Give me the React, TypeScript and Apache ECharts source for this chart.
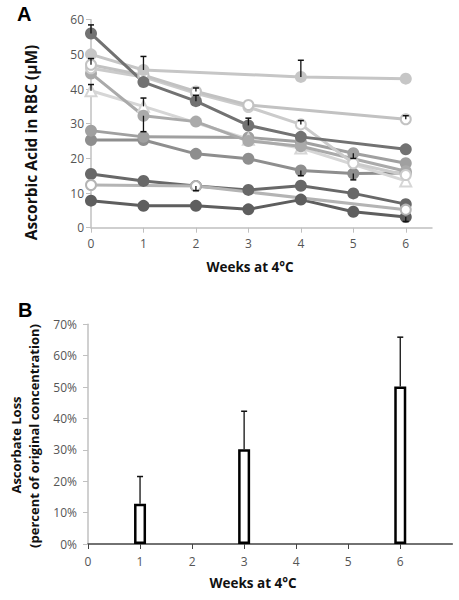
import React, { useEffect, useRef } from "react";
import * as echarts from "echarts";

const weeks = [0, 1, 2, 3, 4, 5, 6];
const weekTicks = [0, 1, 2, 3, 4, 5, 6];

// Panel A: ascorbic acid in RBC (µM) per subject
const s1 = [56, 42, 36.5, 29.5, 26.2, null, 22.6];
const s2 = [50, 45.5, null, null, 43.5, null, 43];
const s3 = [47, 44, 39.3, 35.4, null, null, 31.3];
const s4 = [46, 43.5, 38.8, 34.8, 29.8, 18.6, 15.2];
const s5 = [28, 26.2, null, 26, 24.8, 21.5, 18.6];
const s6 = [25.3, 25.3, 21.3, 19.9, 16.5, 15.6, 15.8];
const s7 = [44.5, 32.3, 30.6, 25, 23.5, null, 16.3];
const s8 = [39.5, 35, null, 25.5, 23, null, 13.5];
const s9 = [15.5, 13.5, 12, 10.9, 12.1, 9.9, 6.8];
const s10 = [12.3, null, 12, null, null, null, 5.2];
const s11 = [7.8, 6.3, 6.3, 5.3, 8.1, 4.6, 3.1];

// Panel A error bars: week, from (point), to (cap)
const errAWeek = [0, 0, 0, 1, 1, 1, 2, 2, 2, 3, 4, 4, 4, 5, 5, 6, 6];
const errAFrom = [56, 47, 39.5, 45.5, 35, 32.3, 39.3, 36.5, 12, 29.5, 43.5, 29.8, 16.5, 21.5, 15.6, 31.3, 3.1];
const errATo = [58.5, 48.8, 41.3, 49.4, 37.4, 27.7, 40.3, 38.2, 10.7, 31.6, 48.3, 30.9, 15, 20, 13.8, 32.3, 1.8];

// Panel B: ascorbate loss (%)
const lossWeeks = [1, 3, 6];
const lossMean = [12.8, 30.2, 50.2];
const lossErr = [21.5, 42.3, 65.9];

const lineDefs = [
  { data: s11, color: "#5e5e5e", symbol: "circle" },
  { data: s9, color: "#686868", symbol: "circle" },
  { data: s10, color: "#b4b4b4", symbol: "emptyCircle" },
  { data: s6, color: "#8e8e8e", symbol: "circle" },
  { data: s5, color: "#a0a0a0", symbol: "circle" },
  { data: s8, color: "#d6d6d6", symbol: "emptyTriangle" },
  { data: s7, color: "#aaaaaa", symbol: "circle" },
  { data: s4, color: "#cbcbcb", symbol: "emptyCircle" },
  { data: s3, color: "#c2c2c2", symbol: "emptyCircle" },
  { data: s2, color: "#c6c6c6", symbol: "circle" },
  { data: s1, color: "#727272", symbol: "circle" },
];

const tickFont = { color: "#555", fontSize: 12, fontFamily: "Open Sans" };

function errRender(capHalf: number) {
  return (params: any, api: any) => {
    const x = api.value(0);
    const p1 = api.coord([x, api.value(1)]);
    const p2 = api.coord([x, api.value(2)]);
    return {
      type: "group",
      children: [
        { type: "line", shape: { x1: p1[0], y1: p1[1], x2: p2[0], y2: p2[1] }, style: { stroke: "#111", lineWidth: 1.3 } },
        { type: "line", shape: { x1: p2[0] - capHalf, y1: p2[1], x2: p2[0] + capHalf, y2: p2[1] }, style: { stroke: "#111", lineWidth: 1.5 } },
      ],
    };
  };
}

export default function App() {
  const ref = useRef<HTMLDivElement>(null);
  useEffect(() => {
    if (!ref.current) return;
    const chart = echarts.init(ref.current, null, { renderer: "svg" });
    const lineSeries = lineDefs.map((d) => ({
      type: "line",
      xAxisIndex: 0,
      yAxisIndex: 0,
      data: weeks.map((w, i) => [w, d.data[i]]),
      connectNulls: true,
      symbol: d.symbol,
      symbolSize: d.symbol === "emptyTriangle" ? 11 : d.symbol === "emptyCircle" ? 10 : 12,
      lineStyle: { color: d.color, width: 3 },
      itemStyle: { color: d.color, borderWidth: d.symbol === "circle" ? 0 : 2.5, borderColor: d.color },
    }));
    chart.setOption({
      animation: false,
      grid: [
        { left: 91, top: 19.7, width: 341, height: 208 },
        { left: 88, top: 324.3, width: 364.3, height: 219.7 },
      ],
      xAxis: [
        {
          gridIndex: 0, type: "value", min: 0, max: 6.5, interval: 1,
          axisLine: { lineStyle: { color: "#c0c0c0", width: 1.5 } },
          axisTick: { show: true, length: 5, customValues: weekTicks, lineStyle: { color: "#c0c0c0" } },
          axisLabel: { ...tickFont, margin: 10, customValues: weekTicks },
          splitLine: { show: false },
        },
        {
          gridIndex: 1, type: "value", min: 0, max: 7, interval: 1,
          axisLine: { lineStyle: { color: "#444", width: 1.5 } },
          axisTick: { show: true, length: 5, lineStyle: { color: "#444" } },
          axisLabel: { ...tickFont, margin: 11, showMaxLabel: false },
          splitLine: { show: false },
        },
      ],
      yAxis: [
        {
          gridIndex: 0, type: "value", min: 0, max: 60, interval: 10,
          axisLine: { show: true, lineStyle: { color: "#c0c0c0", width: 1.5 } },
          axisTick: { show: true, length: 5, lineStyle: { color: "#c0c0c0" } },
          axisLabel: { ...tickFont, margin: 7 },
          splitLine: { show: false },
        },
        {
          gridIndex: 1, type: "value", min: 0, max: 70, interval: 10,
          axisLine: { show: true, lineStyle: { color: "#c0c0c0", width: 1.5 } },
          axisTick: { show: true, length: 5, lineStyle: { color: "#c0c0c0" } },
          axisLabel: { ...tickFont, margin: 11, formatter: "{value}%" },
          splitLine: { show: false },
        },
      ],
      series: [
        ...lineSeries,
        {
          type: "custom", xAxisIndex: 0, yAxisIndex: 0, z: 5,
          data: errAWeek.map((w, i) => [w, errAFrom[i], errATo[i]]),
          renderItem: errRender(3),
        },
        {
          type: "bar", xAxisIndex: 1, yAxisIndex: 1,
          data: lossWeeks.map((w, i) => [w, lossMean[i]]),
          barWidth: 12,
          itemStyle: { color: "#fff", borderColor: "#000", borderWidth: 2.5 },
        },
        {
          type: "custom", xAxisIndex: 1, yAxisIndex: 1, z: 1,
          data: lossWeeks.map((w, i) => [w, lossMean[i], lossErr[i]]),
          renderItem: errRender(3),
        },
      ],
      graphic: [
        { type: "text", left: 17, top: 4, style: { text: "A", font: "bold 20px Arial", fill: "#000" } },
        { type: "text", left: 18, top: 300, style: { text: "B", font: "bold 20px Arial", fill: "#000" } },
        {
          type: "text", x: 30.5, y: 142.5, rotation: Math.PI / 2,
          style: { text: "Ascorbic Acid in RBC (µM)", font: "bold 15.5px 'Open Sans'", fill: "#111", textAlign: "center", textVerticalAlign: "middle" },
        },
        {
          type: "text", x: 250, y: 267,
          style: { text: "Weeks at 4°C", font: "bold 13.5px 'Open Sans'", fill: "#111", textAlign: "center", textVerticalAlign: "middle" },
        },
        {
          type: "text", x: 16, y: 445, rotation: Math.PI / 2,
          style: { text: "Ascorbate Loss", font: "bold 13px 'Open Sans'", fill: "#111", textAlign: "center", textVerticalAlign: "middle" },
        },
        {
          type: "text", x: 34, y: 436, rotation: Math.PI / 2,
          style: { text: "(percent of original concentration)", font: "bold 13px 'Open Sans'", fill: "#111", textAlign: "center", textVerticalAlign: "middle" },
        },
        {
          type: "text", x: 253, y: 583,
          style: { text: "Weeks at 4°C", font: "bold 13.5px 'Open Sans'", fill: "#111", textAlign: "center", textVerticalAlign: "middle" },
        },
      ],
    });
    return () => chart.dispose();
  }, []);
  return (
    <div
      ref={ref}
      style={{ position: "fixed", left: 0, top: 0, width: 459, height: 600, background: "#fff" }}
    />
  );
}
